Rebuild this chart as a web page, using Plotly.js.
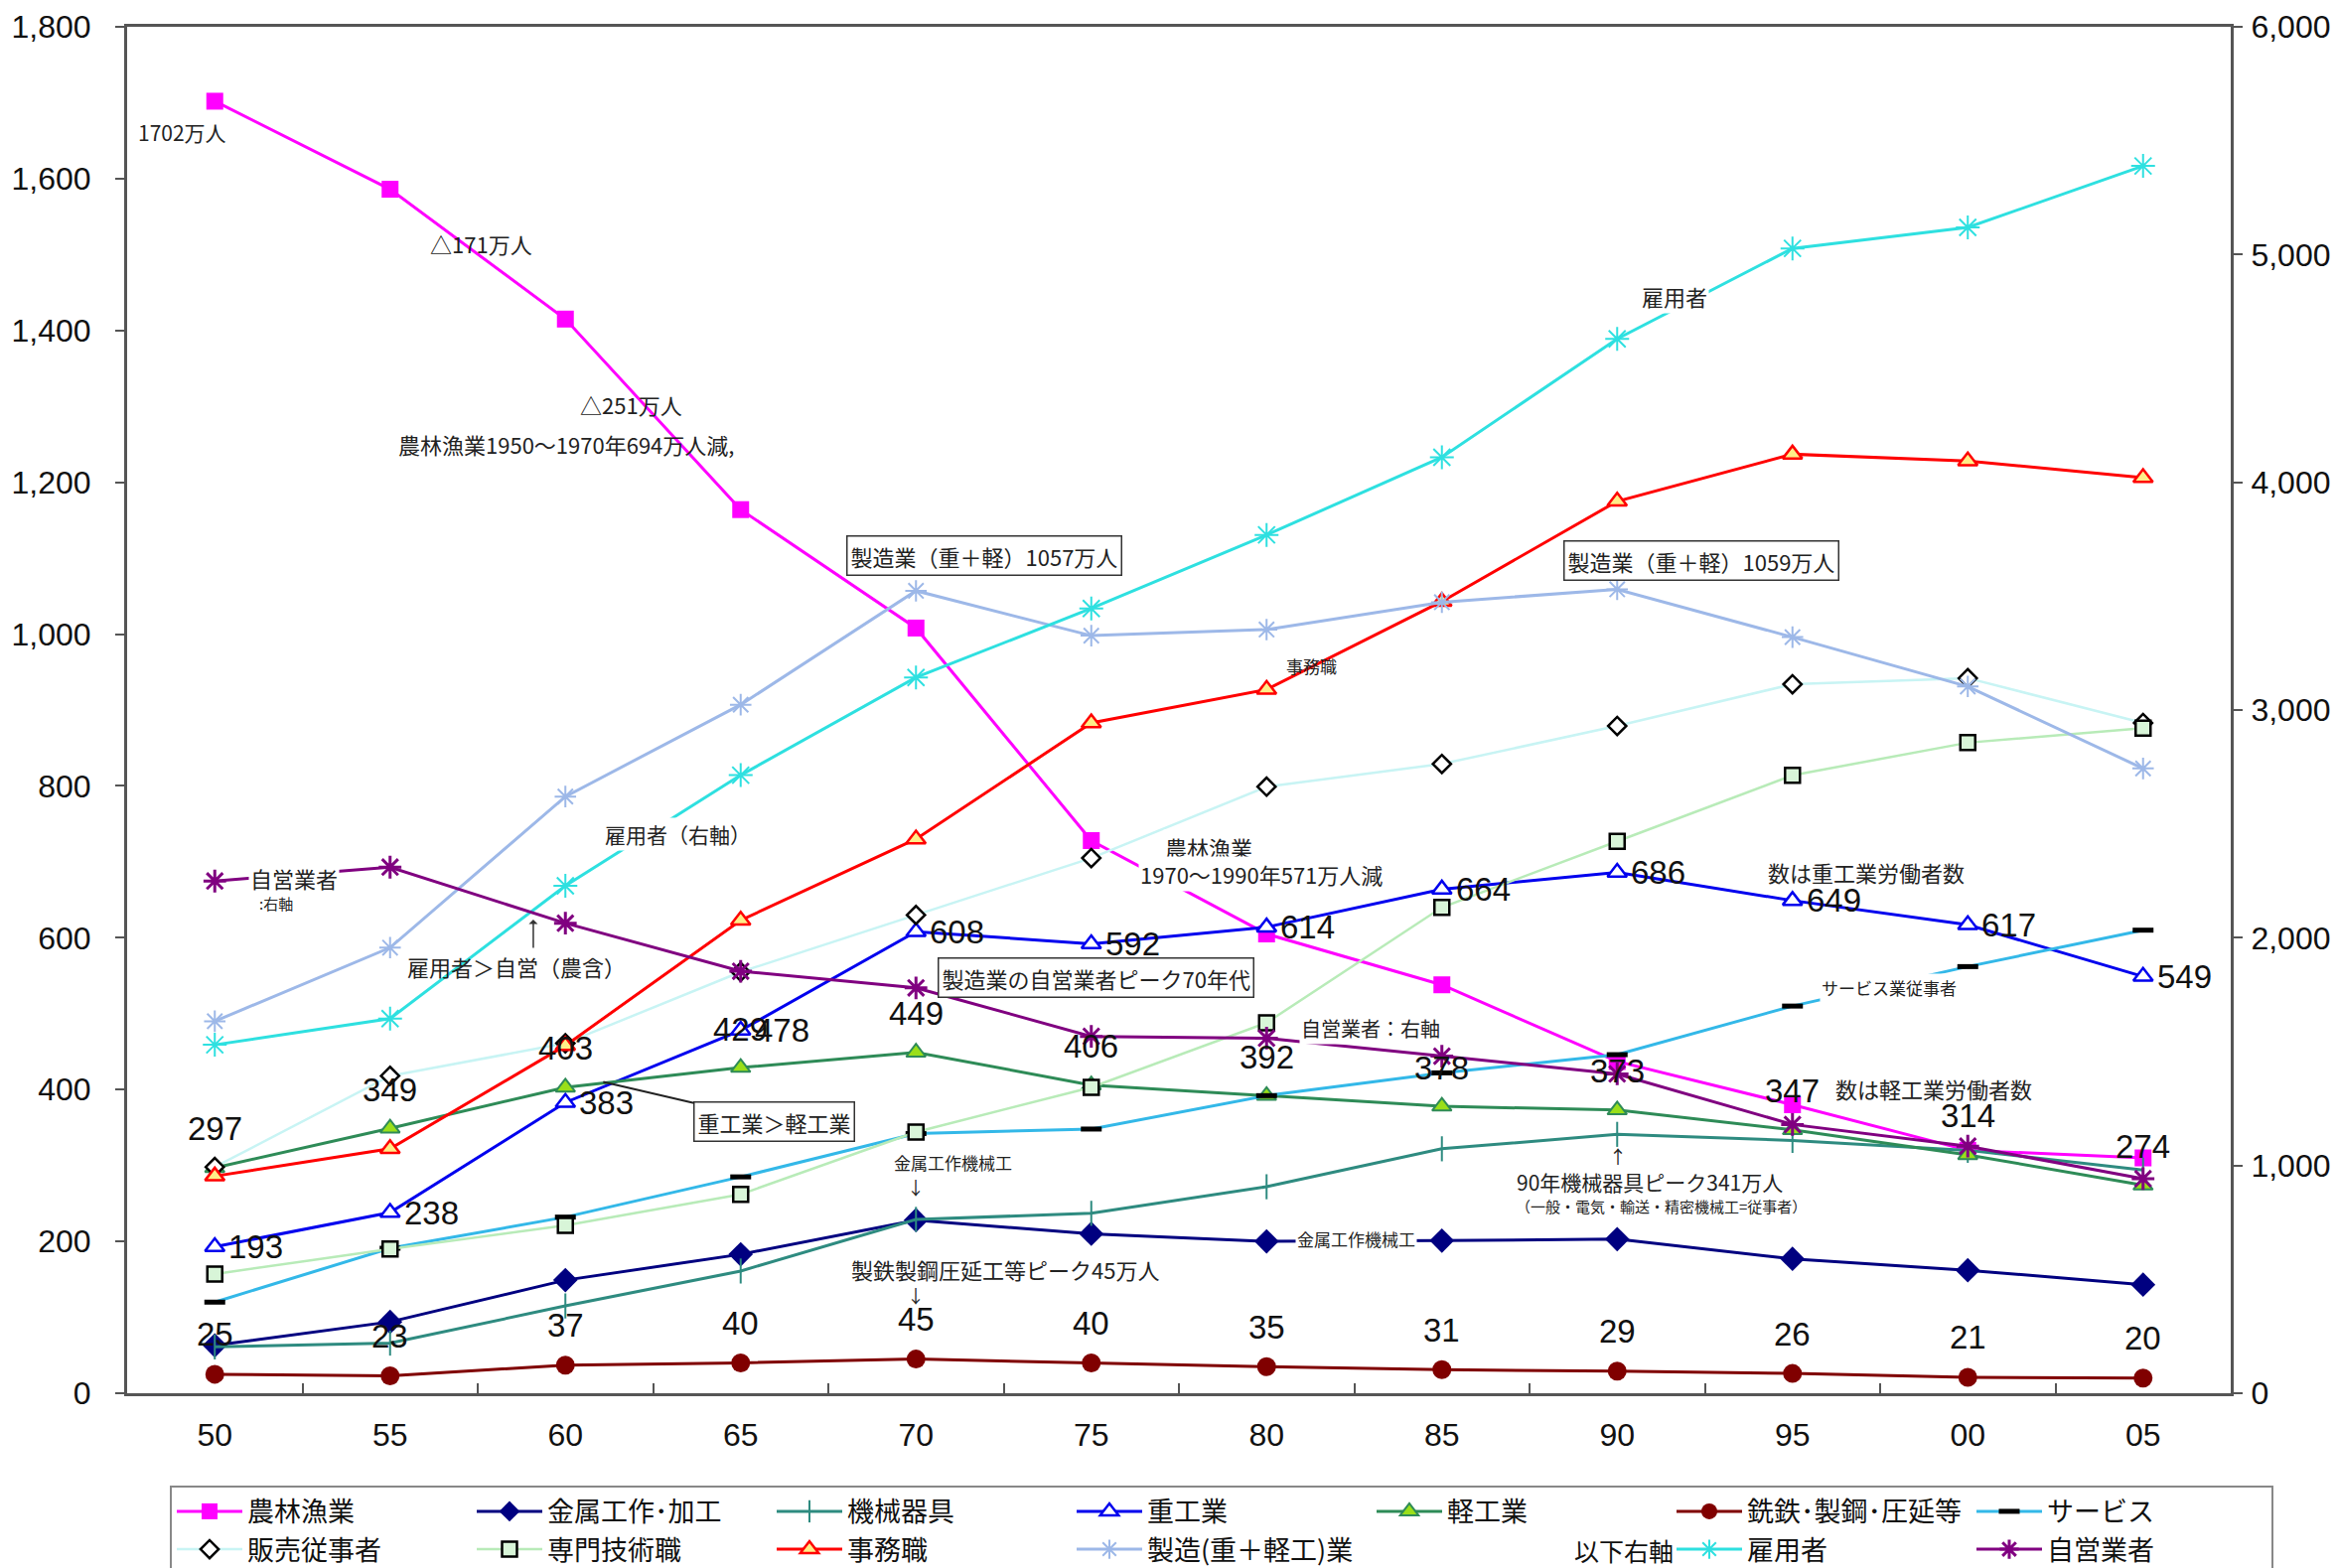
<!DOCTYPE html>
<html>
<head>
<meta charset="utf-8">
<script src="https://cdn.plot.ly/plotly-3.0.1.min.js"></script>
<style>
  html, body { margin: 0; padding: 0; background: #ffffff; }
  #chart { width: 2353px; height: 1579px; }
</style>
</head>
<body>
<div id="chart"></div>
<script>
// 年（西暦下2桁）
const years = ['50','55','60','65','70','75','80','85','90','95','00','05'];

// 左軸（万人）
const agriculture   = [1702,1586,1415,1164,1008,728,605,538,437,380,320,310];
const metalWork     = [63,94,149,183,228,210,200,201,203,177,162,143];
const machinery     = [61,66,115,161,229,237,272,322,341,333,320,294];
const heavyIndustry = [193,238,383,478,608,592,614,664,686,649,617,549];
const lightIndustry = [297,349,403,429,449,406,392,378,373,347,314,274];
const ironSteel     = [25,23,37,40,45,40,35,31,29,26,21,20];
const services      = [120,191,232,285,342,348,392,422,446,510,562,610];
const sales         = [298,418,461,555,630,705,799,829,879,934,942,883];
const professional  = [157,190,221,262,344,403,488,640,727,814,857,876];
const clerical      = [286,322,458,623,730,883,927,1043,1175,1237,1228,1206];
const manufacturing = [490,587,786,907,1057,998,1006,1042,1059,996,931,823];

// 右軸（万人）
const employees     = [1530,1645,2228,2714,3143,3446,3769,4110,4630,5027,5119,5389];
const selfEmployed  = [2249,2310,2064,1853,1780,1567,1559,1480,1402,1180,1085,942];

// 凡例名
const names = {
  agriculture: '農林漁業', metalWork: '金属工作･加工', machinery: '機械器具',
  heavy: '重工業', light: '軽工業', iron: '銑鉄･製鋼･圧延等', services: 'サービス',
  sales: '販売従事者', professional: '専門技術職', clerical: '事務職',
  manufacturing: '製造(重＋軽工)業', employees: '雇用者', selfEmployed: '自営業者'
};

const NUM_FONT = "'Liberation Sans', Arial, sans-serif";
const JP_FONT = "'Noto Sans CJK JP', 'Noto Sans', sans-serif";

function series(name, y, color, width, marker, yaxis) {
  return {
    type: 'scatter', mode: 'lines+markers', name: name, x: years, y: y,
    yaxis: yaxis || 'y', line: { color: color, width: width }, marker: marker,
    cliponaxis: false
  };
}

const traces = [
  series(names.agriculture, agriculture, '#FF00FF', 3,
    { symbol: 'square', size: 17, color: '#FF00FF' }),
  series(names.metalWork, metalWork, '#000080', 3,
    { symbol: 'diamond', size: 19, color: '#000080' }),
  series(names.machinery, machinery, '#2E8B80', 3,
    { symbol: 'line-ns', size: 18, line: { color: '#2E8B80', width: 2 } }),
  series(names.heavy, heavyIndustry, '#0000EE', 3,
    { symbol: 'triangle-up', size: 17, color: '#FFFFFF', line: { color: '#0000EE', width: 2.5 } }),
  series(names.light, lightIndustry, '#2E8B57', 3,
    { symbol: 'triangle-up', size: 17, color: '#9ADF1A', line: { color: '#2E8B57', width: 2 } }),
  series(names.iron, ironSteel, '#800000', 3,
    { symbol: 'circle', size: 19, color: '#800000' }),
  series(names.services, services, '#33B8E8', 3,
    { symbol: 'line-ew', size: 15, line: { color: '#000000', width: 5 } }),
  series(names.sales, sales, '#C8F4F4', 2.5,
    { symbol: 'diamond', size: 14, color: '#FFFFFF', line: { color: '#000000', width: 2.5 } }),
  series(names.professional, professional, '#B8EBB8', 2.5,
    { symbol: 'square', size: 15, color: '#D8F5D8', line: { color: '#000000', width: 2.5 } }),
  series(names.clerical, clerical, '#FF0000', 3,
    { symbol: 'triangle-up', size: 17, color: '#FFEE88', line: { color: '#FF0000', width: 2.5 } }),
  series(names.manufacturing, manufacturing, '#9DB8E8', 3,
    { symbol: 'asterisk-open', size: 18, line: { color: '#9DB8E8', width: 2 } }),
  // 凡例の空き枠
  { type: 'scatter', mode: 'lines', name: ' ', x: [null], y: [null],
    line: { color: 'rgba(0,0,0,0)', width: 0 }, hoverinfo: 'skip' },
  series(names.employees, employees, '#2EE0E0', 3,
    { symbol: 'asterisk-open', size: 20, line: { color: '#2EE0E0', width: 2 } }, 'y2'),
  series(names.selfEmployed, selfEmployed, '#800080', 3,
    { symbol: 'asterisk-open', size: 19, line: { color: '#800080', width: 3 } }, 'y2')
];

// 注記
const annotations = [];
const numFont = { family: NUM_FONT, size: 33, color: '#111111' };

heavyIndustry.forEach((v, i) => annotations.push({
  x: i, y: v, text: String(v), showarrow: false, xanchor: 'left', xshift: 12, font: numFont
}));
lightIndustry.forEach((v, i) => annotations.push({
  x: i, y: v, text: String(v), showarrow: false, yshift: 39, font: numFont
}));
ironSteel.forEach((v, i) => annotations.push({
  x: i, y: v, text: String(v), showarrow: false, yshift: 40, font: numFont
}));

function note(text, x, y, size, extra) {
  annotations.push(Object.assign({
    x: x, y: y, text: text, showarrow: false,
    font: { family: JP_FONT, size: size, color: '#222222' }
  }, extra || {}));
}
const boxed = { bgcolor: '#FFFFFF', bordercolor: '#333333', borderwidth: 1.5, borderpad: 3 };
const blank = { bgcolor: '#FFFFFF' };

note('1702万人', -0.187, 1661, 21);
note('△171万人', 1.52, 1515, 22);
note('△251万人', 2.377, 1303, 22);
note('農林漁業1950～1970年694万人減,', 2.003, 1250, 22);
note('製造業（重＋軽）1057万人', 4.389, 1103, 22, boxed);
note('雇用者', 8.328, 1445, 22, blank);
note('製造業（重＋軽）1059万人', 8.48, 1097, 22, boxed);
note('事務職', 6.256, 958, 17);
note('雇用者（右軸）', 2.64, 736, 21, blank);
note('農林漁業', 5.671, 720, 22, blank);
note('1970～1990年571万人減', 5.968, 684, 22, blank);
note('自営業者', 0.45, 679, 22, blank);
note(':右軸', 0.35, 645, 15);
note('雇用者＞自営（農含）', 1.723, 563, 22);
annotations.push({ x: 1.817, y: 624, text: '', showarrow: true, ax: 0, ay: 30,
  arrowhead: 1, arrowsize: 1, arrowwidth: 1.5, arrowcolor: '#333333' });
note('製造業の自営業者ピーク70年代', 5.025, 548, 22, boxed);
note('数は重工業労働者数', 9.423, 687, 22);
note('自営業者：右軸', 6.596, 481, 20, blank);
note('重工業＞軽工業', 2.216, 410, 22, Object.assign({
  showarrow: true, ax: 172, ay: 40, arrowhead: 0, arrowwidth: 2, arrowcolor: '#222222'
}, boxed));
note('数は軽工業労働者数', 9.805, 402, 22);
note('サービス業従事者', 9.55, 534, 17, blank);
note('金属工作機械工', 4.211, 304, 17);
note('↓', 3.998, 272, 18);
note('製鉄製鋼圧延工等ピーク45万人', 4.508, 163, 22);
note('↓', 3.998, 130, 18);
note('金属工作機械工', 6.511, 204, 17, blank);
note('↑', 8.005, 312, 18);
note('90年機械器具ピーク341万人', 8.183, 279, 21);
note('（一般・電気・輸送・精密機械工=従事者）', 8.251, 247, 15);
note('以下右軸', 0.736, -0.1148, 25, { xref: 'paper', yref: 'paper',
  xanchor: 'right', yanchor: 'middle',
  font: { family: JP_FONT, size: 25, color: '#111111' } });

const tickFont = { family: NUM_FONT, size: 32, color: '#111111' };

const layout = {
  width: 2353, height: 1579,
  margin: { l: 128, r: 107, t: 27, b: 176, pad: 0, autoexpand: false },
  paper_bgcolor: '#FFFFFF', plot_bgcolor: '#FFFFFF',
  showlegend: true,
  xaxis: {
    type: 'category', categoryorder: 'array', categoryarray: years,
    range: [-0.5, 11.5], showgrid: false, zeroline: false,
    showline: true, linecolor: '#555555', linewidth: 3, mirror: true,
    ticks: 'inside', tickson: 'boundaries', ticklen: 10, tickwidth: 2, tickcolor: '#555555',
    tickfont: tickFont, ticklabelstandoff: 12
  },
  yaxis: {
    range: [0, 1800], dtick: 200, tickformat: ',d', showgrid: false, zeroline: false,
    showline: true, linecolor: '#555555', linewidth: 3,
    ticks: 'outside', ticklen: 9, tickwidth: 2, tickcolor: '#555555',
    tickfont: tickFont, ticklabelstandoff: 18
  },
  yaxis2: {
    overlaying: 'y', side: 'right',
    range: [0, 6000], dtick: 1000, tickformat: ',d', showgrid: false, zeroline: false,
    showline: true, linecolor: '#555555', linewidth: 3,
    ticks: 'outside', ticklen: 9, tickwidth: 2, tickcolor: '#555555',
    tickfont: tickFont, ticklabelstandoff: 2
  },
  legend: {
    orientation: 'h', x: 0.0203, xanchor: 'left', y: -0.0675, yanchor: 'top',
    bgcolor: '#FFFFFF', bordercolor: '#888888', borderwidth: 2,
    font: { family: JP_FONT, size: 27, color: '#111111' },
    itemwidth: 66, entrywidth: 221, traceorder: 'normal', valign: 'middle'
  },
  annotations: annotations
};

Plotly.newPlot('chart', traces, layout, { displayModeBar: false, staticPlot: true });
</script>
</body>
</html>
